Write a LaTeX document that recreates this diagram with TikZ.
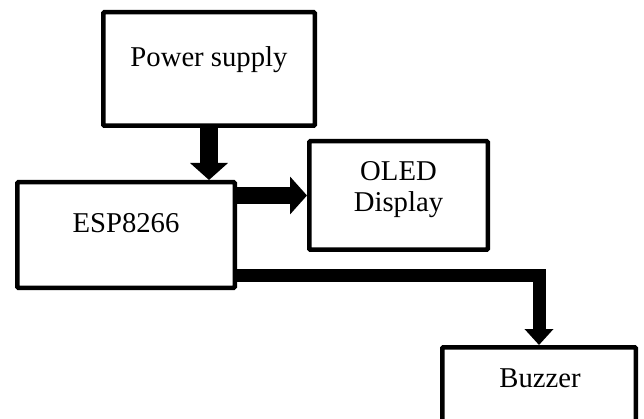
\documentclass[tikz,border=0pt]{standalone}
\usepackage{fontspec}
\setmainfont{Liberation Serif}
\usetikzlibrary{arrows.meta}
\tikzset{
    blockbox/.style={draw, line width=4.5pt, rounded corners=1pt, inner sep=0pt},
    lbl/.style={font=\fontsize{28.7}{34}\selectfont, inner sep=0pt},
    bigarrow/.style={line width=#1, -{Triangle[length=17pt, width=37pt]}},
}
\begin{document}
\begin{tikzpicture}[x=1pt, y=-1pt]
    \clip (0,0) rectangle (644,419);
    % Blocs
    \node[blockbox, minimum width=211.5pt, minimum height=113.5pt] (ps) at (209,69) {};
    \node[blockbox, minimum width=217.5pt, minimum height=105.5pt] (esp) at (126,235) {};
    \node[blockbox, minimum width=178.5pt, minimum height=108.5pt] (oled) at (398.5,195.5) {};
    \node[blockbox, minimum width=193.5pt, minimum height=90.5pt] (buz) at (539,392.5) {};
    % Textes
    \node[lbl, anchor=base] (pslbl) at (209,67) {Power supply};
    \node[lbl, anchor=base] (esplbl) at (126,233) {ESP8266};
    \node[lbl, anchor=base] (oledlbl) at (398.5,181) {OLED};
    \node[lbl, anchor=base] (displbl) at (398.5,212) {Display};
    \node[lbl, anchor=base] (buzlbl) at (540,387) {Buzzer};
    % Liaisons
    \draw[bigarrow=18pt] (ps.south) -- (ps.south |- esp.north);
    \draw[bigarrow=17pt] (esp.east |- oled.west) -- (oled.west);
    \draw[line width=13pt, -{Triangle[length=16pt, width=28pt]}]
        ([yshift=-40.5pt]esp.east) -| (buz.north);
\end{tikzpicture}
\end{document}
